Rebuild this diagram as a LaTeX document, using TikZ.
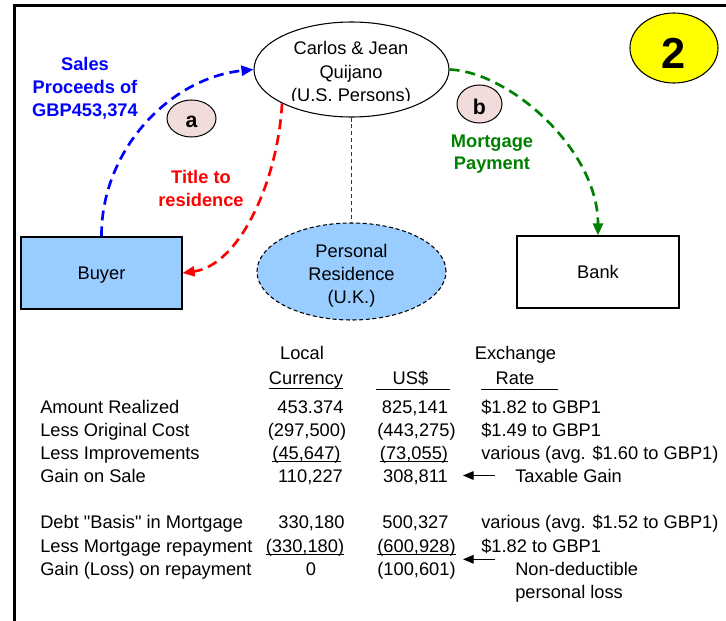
\documentclass[tikz,border=0pt]{standalone}
\usepackage{fontspec}
\setmainfont{Liberation Sans}[Ligatures=TeXOff]
\usetikzlibrary{arrows.meta,shapes.geometric}
\definecolor{cblue}{HTML}{0000FF}
\definecolor{cred}{HTML}{FF0000}
\definecolor{cgreen}{HTML}{008000}
\definecolor{lblue}{HTML}{99CCFF}
\definecolor{pinkfill}{HTML}{F2DCDB}
\definecolor{cyellow}{HTML}{FFFF00}
\definecolor{dgrey}{HTML}{333333}
\newcommand\fsz{\fontsize{13.7}{17.4}\selectfont}
\begin{document}
\begin{tikzpicture}[x=0.75pt,y=-0.75pt,
  every node/.style={font=\fsz, inner sep=0pt},
  ell/.style={ellipse, draw=black, line width=0.8pt, inner sep=0pt},
  boxnode/.style={rectangle, draw=black, line width=0.9pt, text height=9.75pt, text depth=0pt},
  flow/.style={line width=2pt, dash pattern=on 7.5pt off 4.5pt, -{Triangle[length=9pt,width=7.5pt]}},
  tag/.style={ellipse, draw=black, fill=pinkfill, line width=0.75pt, font=\fontsize{16}{18}\selectfont\bfseries},
  lbl/.style={font=\fsz\bfseries, anchor=base},
  tcell/.style={anchor=base},
  tleft/.style={anchor=base west},
  pointer/.style={line width=0.8pt, -{Triangle[length=8pt,width=6.5pt]}},
  uline/.style={line width=0.75pt},
  greyline/.style={draw=dgrey, line width=1pt, dash pattern=on 3pt off 2.2pt}
]
\useasboundingbox (0,0) rectangle (726,621);
% frame
\draw[line width=2.25pt] (14.5,621) -- (14.5,5.5) -- (726,5.5);

% main shapes
\node[ell, fill=white, minimum width=146.25pt, minimum height=71.25pt] (carlos) at (351.5,69.5) {};
\begin{scope}
  \clip (250,20) rectangle (455,100.5);
  \node[tcell] (carlostext) at (351,55) {\begin{tabular}[t]{@{}c@{}}Carlos \& Jean\\Quijano\\(U.S. Persons)\end{tabular}};
\end{scope}

\node[ell, fill=lblue, dash pattern=on 3pt off 2pt, minimum width=141.75pt, minimum height=72.75pt,
      text height=0pt, text depth=21.75pt] (res) at (351.5,271.5)
      {\begin{tabular}[t]{@{}c@{}}Personal\\Residence\\(U.K.)\end{tabular}};

\node[boxnode, fill=lblue, minimum width=120.75pt, minimum height=54pt] (buyer) at (101.5,273) {Buyer};
\node[boxnode, fill=white, minimum width=121.5pt, minimum height=54pt] (bank) at (598,272) {Bank};

\node[ell, fill=cyellow, minimum width=66pt, minimum height=52.5pt,
      font=\fontsize{32.5}{36}\selectfont\bfseries, text height=30pt, text depth=0pt] (two) at (674,48) {2};

\node[tag, minimum width=36.75pt, minimum height=27.75pt, text height=12.8pt, text depth=0pt] (taga) at (191.5,118.5) {a};
\node[tag, minimum width=33.75pt, minimum height=28.5pt, text height=15pt, text depth=0pt] (tagb) at (479.5,104) {b};

% connectors
\draw[flow, cblue] (buyer.north) .. controls (101,150) and (170,78) .. (carlos.west);
\draw[flow, cred] (carlos.206) .. controls (278,180) and (240,265) .. (buyer.east);
\draw[flow, cgreen] (carlos.east) .. controls (510,72) and (598,150) .. (bank.north);
\draw[greyline] (carlos.south) -- (res.north);

% labels
\node[lbl, text=cblue] (sales) at (85,70) {\begin{tabular}[t]{@{}c@{}}Sales\\Proceeds of\\GBP453,374\end{tabular}};
\node[lbl, text=cred] (title) at (201,183.5) {\begin{tabular}[t]{@{}c@{}}Title to\\residence\end{tabular}};
\node[lbl, text=cgreen] (mort) at (492,147.7) {\fontsize{13.7}{16.3}\selectfont\begin{tabular}[t]{@{}c@{}}Mortgage\\Payment\end{tabular}};

% table headers
\node[tcell] (hlocal) at (302,359) {Local};
\node[tcell] (hcur) at (306,384) {Currency};
\draw[uline] ([yshift=-3pt]hcur.base west) -- ([yshift=-3pt]hcur.base east);
\node[tcell] (husd) at (410.5,384) {US\$};
\coordinate (usdl1) at (376,389);
\coordinate (usdl2) at (450,389);
\draw[uline] (usdl1) -- (usdl2);
\node[tcell] (hexch) at (515.5,359) {Exchange};
\node[tcell] (hrate) at (515,384) {Rate};
\coordinate (ratel1) at (481,389);
\coordinate (ratel2) at (558,389);
\draw[uline] (ratel1) -- (ratel2);

% row labels
\node[tleft] (r1) at (40,413) {Amount Realized};
\node[tleft] (r2) at (40,436) {Less Original Cost};
\node[tleft] (r3) at (40,459) {Less Improvements};
\node[tleft] (r4) at (40,482.5) {Gain on Sale};
\node[tleft] (r5) at (40,528.5) {Debt "Basis" in Mortgage};
\node[tleft] (r6) at (40,552) {Less Mortgage repayment};
\node[tleft] (r7) at (40,575) {Gain (Loss) on repayment};

% local currency
\node[tcell] (l1) at (310.5,413) {453.374};
\node[tcell] (l2) at (307,436) {(297,500)};
\node[tcell] (l3) at (306.5,459) {(45,647)};
\draw[uline] ([yshift=-2.2pt]l3.base west) -- ([yshift=-2.2pt]l3.base east);
\node[tcell] (l4) at (310.5,482.5) {110,227};
\node[tcell] (l5) at (311.5,528.5) {330,180};
\node[tcell] (l6) at (305,552) {(330,180)};
\draw[uline] ([yshift=-2.2pt]l6.base west) -- ([yshift=-2.2pt]l6.base east);
\node[tcell] (l7) at (311,575) {0};

% US$
\node[tcell] (u1) at (415,413) {825,141};
\node[tcell] (u2) at (416.5,436) {(443,275)};
\node[tcell] (u3) at (414,459) {(73,055)};
\draw[uline] ([yshift=-2.2pt]u3.base west) -- ([yshift=-2.2pt]u3.base east);
\node[tcell] (u4) at (415.5,482.5) {308,811};
\node[tcell] (u5) at (415.5,528.5) {500,327};
\node[tcell] (u6) at (416.5,552) {(600,928)};
\draw[uline] ([yshift=-2.2pt]u6.base west) -- ([yshift=-2.2pt]u6.base east);
\node[tcell] (u7) at (416.5,575) {(100,601)};

% exchange rate
\node[tleft] (x1) at (481,413) {\$1.82 to GBP1};
\node[tleft] (x2) at (481,436) {\$1.49 to GBP1};
\node[tleft] (x3) at (481,459) {various (avg. \$1.60 to GBP1)};
\node[tleft] (taxable) at (515,482.5) {Taxable Gain};
\node[tleft] (x5) at (481,528.5) {various (avg. \$1.52 to GBP1)};
\node[tleft] (x6) at (481,552) {\$1.82 to GBP1};
\node[tleft] (nondeduct) at (515,575) {\fontsize{13.7}{17.6}\selectfont\begin{tabular}[t]{@{}l@{}}Non-deductible\\personal loss\end{tabular}};

% pointers
\coordinate (p1s) at (495,475.5);
\coordinate (p1e) at (463,475.5);
\draw[pointer] (p1s) -- (p1e);
\coordinate (p2s) at (495,559.3);
\coordinate (p2e) at (463,559.3);
\draw[pointer] (p2s) -- (p2e);
\end{tikzpicture}
\end{document}
